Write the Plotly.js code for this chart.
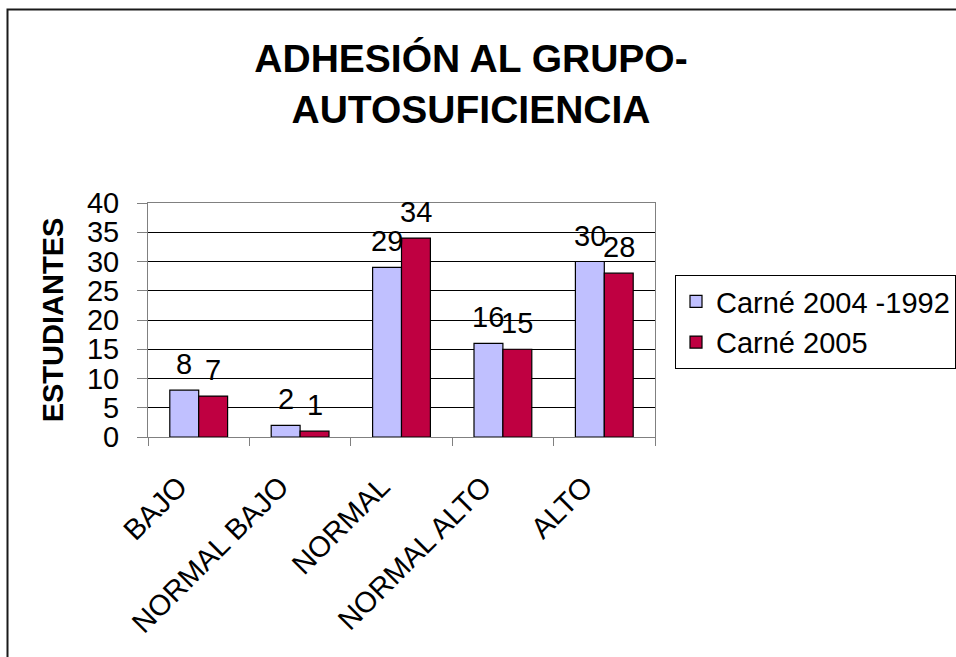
<!DOCTYPE html>
<html>
<head>
<meta charset="utf-8">
<script src="https://cdn.plot.ly/plotly-3.0.1.min.js"></script>
<style>html,body{margin:0;padding:0;background:#fff;}#chart{width:956px;height:657px;}</style>
</head>
<body>
<div id="chart"></div>
<script>
const categories = ["BAJO", "NORMAL BAJO", "NORMAL", "NORMAL ALTO", "ALTO"];
const seriesNames = ["Carné 2004 -1992", "Carné 2005"];
const values2004 = [8, 2, 29, 16, 30];
const values2005 = [7, 1, 34, 15, 28];
const yTicks = [0, 5, 10, 15, 20, 25, 30, 35, 40];

const FONT = "Arial, 'Liberation Sans', sans-serif";
const colors = ["#C0C0FF", "#BF0041"];
const allValues = [values2004, values2005];

const traces = allValues.map((vals, i) => ({
  type: "bar",
  name: seriesNames[i],
  x: categories,
  y: vals,
  legendgroup: "g" + i,
  marker: {color: colors[i], line: {color: "#000", width: 1.2}},
  hoverinfo: "x+y"
}));

const annotations = [];
allValues.forEach((vals, i) => {
  vals.forEach((v, j) => {
    annotations.push({
      x: categories[j], y: v, xref: "x", yref: "y",
      text: String(v), showarrow: false,
      xshift: i === 0 ? -14.5 : 14.5, yshift: 8,
      yanchor: "bottom", xanchor: "center",
      font: {family: FONT, size: 29, color: "#000"}
    });
  });
});

const L = 148, R = 301, T = 203, B = 220;
const pw = 956 - L - R, ph = 657 - T - B;
const px = x => (x - L) / pw;
const py = y => (657 - B - y) / ph;

const layout = {
  width: 956, height: 657,
  margin: {l: L, r: R, t: T, b: B, pad: 0, autoexpand: false},
  paper_bgcolor: "#fff", plot_bgcolor: "#fff",
  font: {family: FONT, size: 29, color: "#000"},
  title: {
    text: "<b>ADHESIÓN AL GRUPO-<br>AUTOSUFICIENCIA</b>",
    font: {family: FONT, size: 39, color: "#000"},
    x: px(471), xref: "paper", xanchor: "center",
    y: 1 - 72/657, yref: "container", yanchor: "middle"
  },
  barmode: "group", bargap: 0.43, bargroupgap: 0,
  showlegend: true,
  legend: {
    x: px(675), y: py(275), xanchor: "left", yanchor: "top",
    bordercolor: "#000", borderwidth: 1, bgcolor: "#fff",
    font: {family: FONT, size: 29, color: "#000"},
    tracegroupgap: 6, traceorder: "normal"
  },
  xaxis: {
    type: "category", tickangle: -45,
    showline: true, linecolor: "#808080", linewidth: 1, mirror: true,
    ticks: "outside", ticklen: 8, tickcolor: "#808080", tickson: "boundaries",
    showgrid: false, zeroline: false,
    ticklabelstandoff: 20, ticklabelshift: -20,
    tickfont: {family: FONT, size: 29, color: "#000"}
  },
  yaxis: {
    range: [0, 40], tickvals: yTicks, ticktext: yTicks.map(String),
    showline: true, linecolor: "#808080", linewidth: 1, mirror: true,
    ticks: "outside", ticklen: 10, tickcolor: "#808080",
    showgrid: true, gridcolor: "#000", gridwidth: 1, zeroline: false,
    tickfont: {family: FONT, size: 29, color: "#000"},
    ticklabelstandoff: 12,
    title: {text: "<b>ESTUDIANTES</b>", font: {family: FONT, size: 29, color: "#000"}, standoff: 14}
  },
  annotations: annotations,
  shapes: [{
    type: "rect", xref: "paper", yref: "paper",
    x0: px(7.5), x1: px(1000), y0: py(720), y1: py(9.5),
    line: {color: "#1a1a1a", width: 2}, fillcolor: "rgba(0,0,0,0)", layer: "above"
  }]
};

Plotly.newPlot("chart", traces, layout, {displayModeBar: false, staticPlot: true});
</script>
</body>
</html>
